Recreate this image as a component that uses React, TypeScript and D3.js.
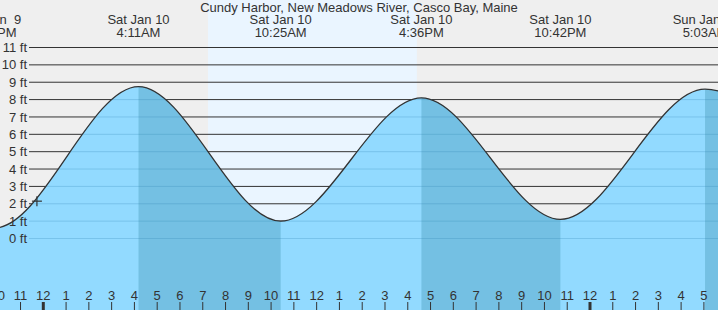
import React from 'react';
import * as d3 from 'd3';

// hours are counted from Sat Jan 10, 00:00
const tideHours = [-8.4, -2.16, 4.18, 10.42, 16.6, 22.7, 29.05, 35.3];
const tideFeet = [8.3, 0.6, 8.75, 1.0, 8.1, 1.1, 8.6, 0.9];
const tideDays = ['Fri Jan  9', 'Fri Jan  9', 'Sat Jan 10', 'Sat Jan 10', 'Sat Jan 10', 'Sat Jan 10', 'Sun Jan 11', 'Sun Jan 11'];
const tideTimes = ['3:38PM', '9:50PM', '4:11AM', '10:25AM', '4:36PM', '10:42PM', '5:03AM', '11:21AM'];

const sunrise = 7.23;
const sunset = 16.4;
const nowHour = -0.28;
const nowFeet = 2.15;

const feetTicks = [0, 1, 2, 3, 4, 5, 6, 7, 8, 9, 10, 11];
const title = 'Cundy Harbor, New Meadows River, Casco Bay, Maine';

const W = 718;
const H = 310;
const font = '"Liberation Sans", Arial, sans-serif';

const App = () => {
  const x = d3.scaleLinear().domain([0, 24]).range([43.3, 590]);
  const y = d3.scaleLinear().domain([0, 11]).range([238.5, 47.5]);

  const pts = tideHours.map((h, i) => ({ h, v: tideFeet[i], i }));

  const line = d3.line<any>()
    .x(d => x(d.h))
    .y(d => y(d.v))
    .curve(d3.curveMonotoneX);

  const area = d3.area<any>()
    .x(d => x(d.h))
    .y0(H)
    .y1(d => y(d.v))
    .curve(d3.curveMonotoneX);

  const waterPath = area(pts) as string;

  // falling tide: from each high to the following low
  const falling = pts
    .filter((p, i) => i < pts.length - 1 && p.v > pts[i + 1].v)
    .map(p => [x(p.h), x(pts[p.i + 1].h)]);

  const labelled = pts.filter(p => x(p.h) > -40 && x(p.h) < W + 40);

  const hours = d3.range(-2, 30);
  const hourLabel = (h: number) => {
    const hh = ((h % 24) + 24) % 24;
    const r = hh % 12;
    return r === 0 ? '12' : String(r);
  };

  return (
    <svg width={W} height={H} style={{ position: 'absolute', left: 0, top: 0, fontFamily: font }}>
      <defs>
        <clipPath id="water">
          <path d={waterPath} />
        </clipPath>
        <clipPath id="fall">
          {falling.map(([a, b], i) => (
            <rect key={i} x={a} y={0} width={b - a} height={H} />
          ))}
        </clipPath>
      </defs>
      <rect width={W} height={H} fill="#efefef" />
      <rect x={x(sunrise)} y={0} width={x(sunset) - x(sunrise)} height={H} fill="#eaf5ff" />

      {feetTicks.map(f => (
        <line key={f} x1={29} x2={W} y1={y(f)} y2={y(f)} stroke="#333" strokeWidth={1} />
      ))}

      <path d={waterPath} fill="#92daff" />
      <path d={waterPath} fill="#74c0e3" clipPath="url(#fall)" />
      <g clipPath="url(#water)">
        {feetTicks.map(f => (
          <line key={f} x1={29} x2={W} y1={y(f)} y2={y(f)} stroke="#2a7fb0" strokeOpacity={0.25} strokeWidth={1} />
        ))}
      </g>
      <path d={line(pts) as string} fill="none" stroke="#333" strokeWidth={1.3} />

      {feetTicks.map(f => (
        <text key={f} x={27} y={y(f)} dy="0.35em" textAnchor="end" fontSize={13} fill="#333">{`${f} ft`}</text>
      ))}

      <g stroke="#333" strokeWidth={1.2}>
        <line x1={x(nowHour) - 5} x2={x(nowHour) + 5} y1={y(nowFeet)} y2={y(nowFeet)} />
        <line x1={x(nowHour)} x2={x(nowHour)} y1={y(nowFeet) - 5} y2={y(nowFeet) + 5} />
      </g>

      <text x={W / 2} y={12} textAnchor="middle" fontSize={13} fill="#333">{title}</text>
      {labelled.map(p => (
        <text key={p.i} x={x(p.h)} textAnchor="middle" fontSize={13} fill="#333" style={{ whiteSpace: 'pre' }}>
          <tspan x={x(p.h)} y={24}>{tideDays[p.i]}</tspan>
          <tspan x={x(p.h)} y={37}>{tideTimes[p.i]}</tspan>
        </text>
      ))}

      {hours.map(h => {
        const mid = ((h % 24) + 24) % 24 === 0;
        return (
          <g key={h}>
            <text x={x(h)} y={300} textAnchor="middle" fontSize={13} fill="#333">{hourLabel(h)}</text>
            <line x1={x(h)} x2={x(h)} y1={302} y2={H} stroke="#333" strokeWidth={mid ? 3 : 1} />
          </g>
        );
      })}
    </svg>
  );
};

export default App;
